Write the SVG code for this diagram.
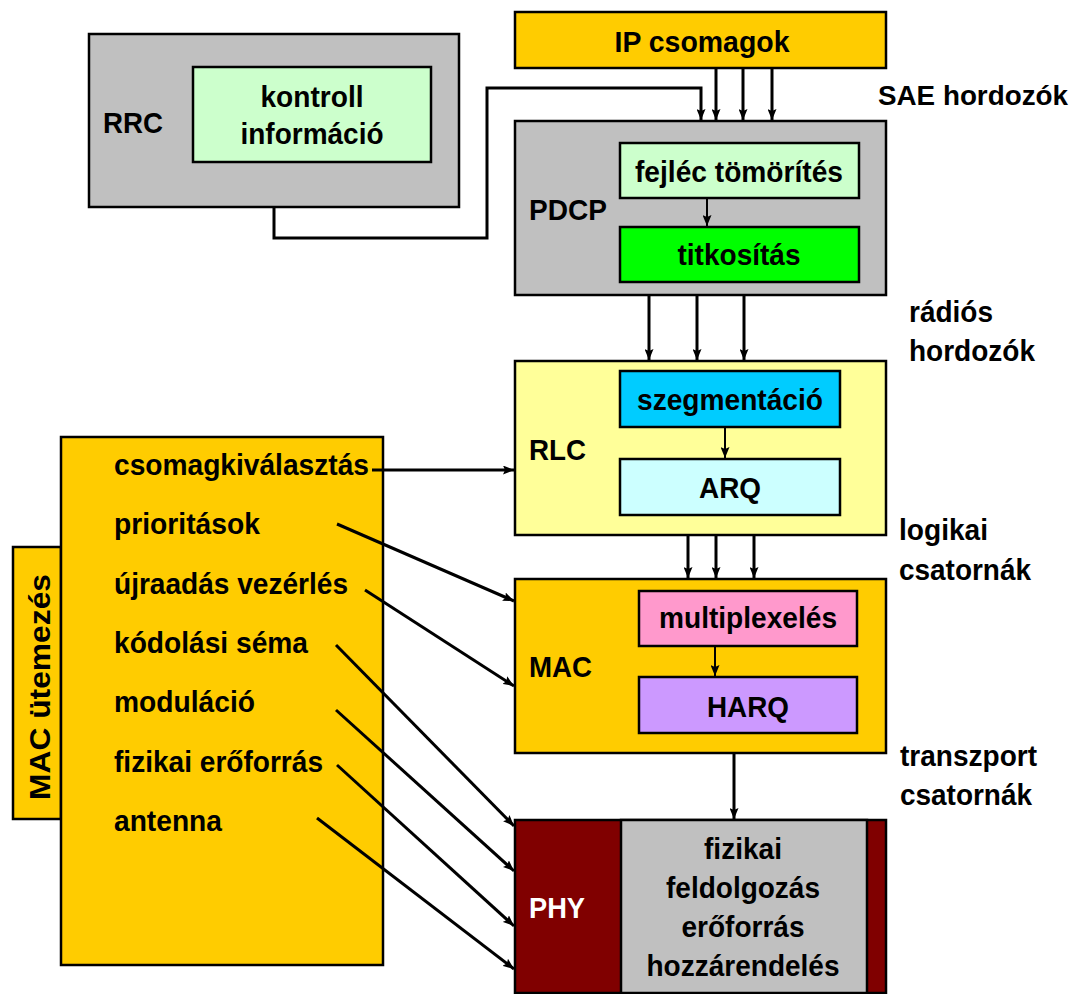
<svg xmlns="http://www.w3.org/2000/svg" width="1077" height="994" viewBox="0 0 1077 994">
  <style>
    .box { stroke: #000; stroke-width: 2.5; }
    .t { font-family: "Liberation Sans", Arial, sans-serif; font-weight: bold; font-size: 30px; fill: #000; }
    .c { text-anchor: middle; }
    .w { fill: #fff; }
    .wire { fill: none; stroke: #000; stroke-width: 3; }
    .thin { fill: none; stroke: #000; stroke-width: 2; }
  </style>
  <defs>
    <marker id="arrow" viewBox="0 0 11 9" refX="11" refY="4.5" markerWidth="11" markerHeight="9" markerUnits="userSpaceOnUse" orient="auto">
      <path d="M0,0 L11,4.5 L0,9 L2,4.5 z" fill="#000"/>
    </marker>
  </defs>
  <rect width="1077" height="994" fill="#fff"/>

  <!-- RRC layer -->
  <g id="rrc">
    <rect class="box" x="89" y="34" width="370" height="173" fill="#C0C0C0"/>
    <text class="t" x="103" y="133" textLength="60" lengthAdjust="spacingAndGlyphs">RRC</text>
  </g>
  <g id="kontroll">
    <rect class="box" x="193" y="67" width="238" height="95" fill="#CCFFCC"/>
    <text class="t c" x="312" y="107" textLength="103" lengthAdjust="spacingAndGlyphs">kontroll</text>
    <text class="t c" x="312" y="144" textLength="143" lengthAdjust="spacingAndGlyphs">információ</text>
  </g>

  <!-- IP packets -->
  <g id="ip">
    <rect class="box" x="515" y="12" width="371" height="56" fill="#FFCC00"/>
    <text class="t c" x="702" y="52" textLength="175" lengthAdjust="spacingAndGlyphs">IP csomagok</text>
  </g>

  <!-- PDCP layer -->
  <g id="pdcp">
    <rect class="box" x="515" y="121" width="371" height="174" fill="#C0C0C0"/>
    <text class="t" x="529" y="220" textLength="78" lengthAdjust="spacingAndGlyphs">PDCP</text>
  </g>
  <g id="fejlec">
    <rect class="box" x="620" y="143" width="239" height="55" fill="#CCFFCC"/>
    <text class="t c" x="739" y="182" textLength="208" lengthAdjust="spacingAndGlyphs">fejléc tömörítés</text>
  </g>
  <g id="titkositas">
    <rect class="box" x="620" y="227" width="239" height="55" fill="#00FF00"/>
    <text class="t c" x="739" y="265" textLength="123" lengthAdjust="spacingAndGlyphs">titkosítás</text>
  </g>

  <!-- RLC layer -->
  <g id="rlc">
    <rect class="box" x="515" y="361" width="371" height="174" fill="#FFFF99"/>
    <text class="t" x="529" y="460" textLength="57" lengthAdjust="spacingAndGlyphs">RLC</text>
  </g>
  <g id="szegmentacio">
    <rect class="box" x="620" y="371" width="220" height="56" fill="#00CCFF"/>
    <text class="t c" x="730" y="410" textLength="186" lengthAdjust="spacingAndGlyphs">szegmentáció</text>
  </g>
  <g id="arq">
    <rect class="box" x="620" y="459" width="220" height="56" fill="#CCFFFF"/>
    <text class="t c" x="730" y="498" textLength="62" lengthAdjust="spacingAndGlyphs">ARQ</text>
  </g>

  <!-- MAC layer -->
  <g id="mac">
    <rect class="box" x="515" y="579" width="371" height="174" fill="#FFCC00"/>
    <text class="t" x="529" y="677" textLength="63" lengthAdjust="spacingAndGlyphs">MAC</text>
  </g>
  <g id="multiplexeles">
    <rect class="box" x="639" y="591" width="218" height="55" fill="#FF99CC"/>
    <text class="t c" x="748" y="628" textLength="178" lengthAdjust="spacingAndGlyphs">multiplexelés</text>
  </g>
  <g id="harq">
    <rect class="box" x="639" y="677" width="218" height="56" fill="#CC99FF"/>
    <text class="t c" x="748" y="717" textLength="82" lengthAdjust="spacingAndGlyphs">HARQ</text>
  </g>

  <!-- PHY layer -->
  <g id="phy">
    <rect class="box" x="515" y="820" width="371" height="173" fill="#800000"/>
    <rect class="box" x="621" y="820" width="246" height="173" fill="#C0C0C0"/>
    <text class="t w" x="529" y="918" textLength="56" lengthAdjust="spacingAndGlyphs">PHY</text>
    <text class="t c" x="743" y="859" textLength="78" lengthAdjust="spacingAndGlyphs">fizikai</text>
    <text class="t c" x="743" y="898" textLength="154" lengthAdjust="spacingAndGlyphs">feldolgozás</text>
    <text class="t c" x="743" y="937" textLength="123" lengthAdjust="spacingAndGlyphs">erőforrás</text>
    <text class="t c" x="743" y="976" textLength="193" lengthAdjust="spacingAndGlyphs">hozzárendelés</text>
  </g>

  <!-- MAC scheduling -->
  <g id="mac-utemezes">
    <rect class="box" x="13" y="547" width="48" height="272" fill="#FFCC00"/>
    <text class="t c" transform="translate(50,687) rotate(-90)" textLength="226" lengthAdjust="spacingAndGlyphs">MAC ütemezés</text>
  </g>
  <g id="utemezo">
    <rect class="box" x="61" y="437" width="322" height="528" fill="#FFCC00"/>
    <text class="t" x="114" y="475" textLength="255" lengthAdjust="spacingAndGlyphs">csomagkiválasztás</text>
    <text class="t" x="114" y="534" textLength="146" lengthAdjust="spacingAndGlyphs">prioritások</text>
    <text class="t" x="114" y="594" textLength="234" lengthAdjust="spacingAndGlyphs">újraadás vezérlés</text>
    <text class="t" x="114" y="653" textLength="194" lengthAdjust="spacingAndGlyphs">kódolási séma</text>
    <text class="t" x="114" y="712" textLength="141" lengthAdjust="spacingAndGlyphs">moduláció</text>
    <text class="t" x="114" y="772" textLength="209" lengthAdjust="spacingAndGlyphs">fizikai erőforrás</text>
    <text class="t" x="114" y="831" textLength="108" lengthAdjust="spacingAndGlyphs">antenna</text>
  </g>

  <!-- channel labels -->
  <g id="labels">
    <text class="t" x="878" y="105" style="font-size:28px" textLength="190" lengthAdjust="spacingAndGlyphs">SAE hordozók</text>
    <text class="t" x="909" y="322" textLength="84" lengthAdjust="spacingAndGlyphs">rádiós</text>
    <text class="t" x="909" y="361" textLength="126" lengthAdjust="spacingAndGlyphs">hordozók</text>
    <text class="t" x="899" y="540" textLength="89" lengthAdjust="spacingAndGlyphs">logikai</text>
    <text class="t" x="899" y="580" textLength="132" lengthAdjust="spacingAndGlyphs">csatornák</text>
    <text class="t" x="900" y="766" textLength="137" lengthAdjust="spacingAndGlyphs">transzport</text>
    <text class="t" x="900" y="805" textLength="132" lengthAdjust="spacingAndGlyphs">csatornák</text>
  </g>

  <!-- connectors -->
  <g id="connectors">
    <path class="wire" d="M274,207 V238 H487 V88 H701 V120" marker-end="url(#arrow)"/>
    <path class="wire" d="M716,68 V120" marker-end="url(#arrow)"/>
    <path class="wire" d="M743,68 V120" marker-end="url(#arrow)"/>
    <path class="wire" d="M772,68 V120" marker-end="url(#arrow)"/>

    <path class="thin" d="M707,198 V226" marker-end="url(#arrow)"/>

    <path class="wire" d="M649,295 V360" marker-end="url(#arrow)"/>
    <path class="wire" d="M697,295 V360" marker-end="url(#arrow)"/>
    <path class="wire" d="M744,295 V360" marker-end="url(#arrow)"/>

    <path class="thin" d="M725,427 V458" marker-end="url(#arrow)"/>

    <path class="wire" d="M688,535 V578" marker-end="url(#arrow)"/>
    <path class="wire" d="M716,535 V578" marker-end="url(#arrow)"/>
    <path class="wire" d="M754,535 V578" marker-end="url(#arrow)"/>

    <path class="thin" d="M715,646 V676" marker-end="url(#arrow)"/>

    <path class="wire" d="M734,753 V819" marker-end="url(#arrow)"/>

    <path class="wire" d="M372,470 H514" marker-end="url(#arrow)"/>
    <path class="wire" d="M337,524 L514,601" marker-end="url(#arrow)"/>
    <path class="wire" d="M365,590 L514,686" marker-end="url(#arrow)"/>
    <path class="wire" d="M336,645 L514,826" marker-end="url(#arrow)"/>
    <path class="wire" d="M336,710 L514,871" marker-end="url(#arrow)"/>
    <path class="wire" d="M337,765 L514,926" marker-end="url(#arrow)"/>
    <path class="wire" d="M317,818 L514,969" marker-end="url(#arrow)"/>
  </g>
</svg>
